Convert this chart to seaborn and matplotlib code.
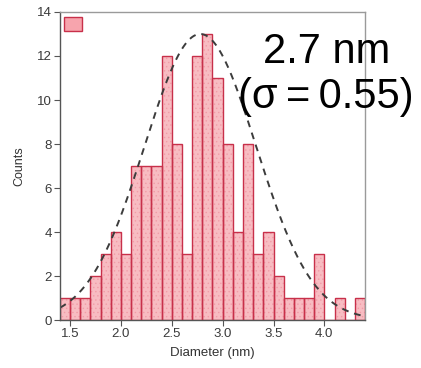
import numpy as np
import matplotlib
matplotlib.use("Agg")
import matplotlib.pyplot as plt
from matplotlib.patches import Patch
import seaborn as sns

# 直方图数据（每个 0.1 nm 一档）
bin_left = [1.4, 1.5, 1.6, 1.7, 1.8, 1.9, 2.0, 2.1, 2.2, 2.3,
            2.4, 2.5, 2.6, 2.7, 2.8, 2.9, 3.0, 3.1, 3.2, 3.3,
            3.4, 3.5, 3.6, 3.7, 3.8, 3.9, 4.0, 4.1, 4.2, 4.3]
counts = [1, 1, 1, 2, 3, 4, 3, 7, 7, 7,
          12, 8, 3, 12, 13, 11, 8, 4, 8, 3,
          4, 2, 1, 1, 1, 3, 0, 1, 0, 1]
bin_width = 0.1

# 高斯拟合参数
fit_center = 2.78
fit_sigma = 0.55
fit_amp = 13.0

x_ticks = [1.5, 2.0, 2.5, 3.0, 3.5, 4.0]
y_ticks = [0, 2, 4, 6, 8, 10, 12, 14]

sns.set_theme(style="white")
plt.rcParams["font.family"] = ["Liberation Sans", "DejaVu Sans"]
plt.rcParams["hatch.linewidth"] = 0.5

fig = plt.figure(figsize=(4.21, 3.68), dpi=100)
ax = fig.add_axes([0.1425, 0.1304, 0.7245, 0.837])

edges = [round(b, 2) for b in bin_left] + [round(bin_left[-1] + bin_width, 2)]
centers = [b + bin_width / 2 for b in bin_left]

fill_color = "#f8bcc2"
edge_color = "#c8304a"

# 填充 + 点状阴影
sns.histplot(x=centers, weights=counts, bins=edges, ax=ax,
             color=fill_color, alpha=1, edgecolor="#f19ca7", linewidth=0)
for p in ax.patches:
    p.set_hatch("....")
# 红色边框
sns.histplot(x=centers, weights=counts, bins=edges, ax=ax, fill=False,
             element="bars", color=edge_color, linewidth=1.0)

xs = np.linspace(1.4, 4.4, 300)
ys = fit_amp * np.exp(-(xs - fit_center) ** 2 / (2 * fit_sigma ** 2))
sns.lineplot(x=xs, y=ys, ax=ax, color="#3c3c3c", linewidth=1.4,
             linestyle=(0, (3.5, 3)))

ax.set_xlim(1.4, 4.4)
ax.set_ylim(0, 14)
ax.set_xticks(x_ticks)
ax.set_xticklabels([f"{t:.1f}" for t in x_ticks])
ax.set_yticks(y_ticks)
ax.tick_params(axis="both", direction="out", length=4, width=0.8,
               colors="#555555", labelsize=9.5, labelcolor="#3a3a3a", pad=2)
ax.tick_params(axis="both", bottom=True, left=True)

for side in ["top", "right"]:
    ax.spines[side].set_color("#9a9a9a")
    ax.spines[side].set_linewidth(1.0)
for side in ["left", "bottom"]:
    ax.spines[side].set_color("#555555")
    ax.spines[side].set_linewidth(1.0)

ax.set_xlabel("Diameter (nm)", fontsize=9.5, color="#333333", labelpad=5)
ax.set_ylabel("Counts", fontsize=9, color="#333333", labelpad=8)

handle = Patch(facecolor="#f7a4ad", edgecolor=edge_color, linewidth=1.0)
ax.legend(handles=[handle], labels=[""], loc="upper left",
          bbox_to_anchor=(0.013, 0.984), borderaxespad=0, borderpad=0,
          frameon=False, handlelength=1.3, handleheight=1.15, fontsize=10)

ax.text(0.875, 0.835, "2.7 nm", transform=ax.transAxes, ha="center",
        va="baseline", fontsize=30, color="black", clip_on=False)
ax.text(0.872, 0.688, "(σ\u2009=\u20090.55)", transform=ax.transAxes, ha="center",
        va="baseline", fontsize=30, color="black", clip_on=False)

fig.savefig("out.png", dpi=100)
